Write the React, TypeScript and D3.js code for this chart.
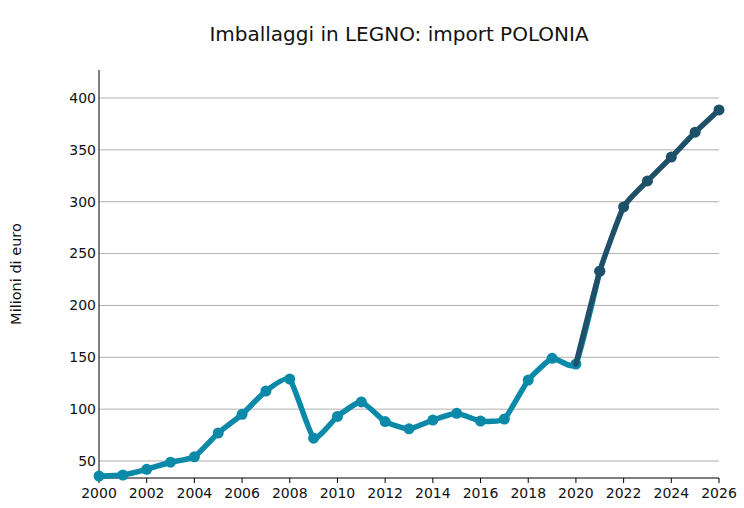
import React from "react";
import * as d3 from "d3";

const years = [
  2000, 2001, 2002, 2003, 2004, 2005, 2006, 2007, 2008, 2009, 2010, 2011, 2012,
  2013, 2014, 2015, 2016, 2017, 2018, 2019, 2020, 2021,
];
const importValues = [
  35.5, 36.5, 42, 48.8, 54, 77, 95, 117.5, 129, 72, 93, 107, 88, 81, 89.5, 96,
  88.5, 90.5, 128, 149, 143.5, 233,
];
const forecastYears = [2020, 2021, 2022, 2023, 2024, 2025, 2026];
const forecastValues = [143.5, 233, 295, 320, 343, 367, 388.5];
const yTicks = [50, 100, 150, 200, 250, 300, 350, 400];
const xTicks = d3.range(2000, 2027, 2);

const W = 744;
const H = 508;
const margin = { top: 70, right: 25, bottom: 30, left: 99 };

const App = () => {
  const x = d3
    .scaleLinear()
    .domain([2000, 2026])
    .range([margin.left, W - margin.right]);
  const y = d3
    .scaleLinear()
    .domain([33.6, 427])
    .range([H - margin.bottom, margin.top]);

  const line = d3
    .line<[number, number]>()
    .x((d) => x(d[0]))
    .y((d) => y(d[1]))
    .curve(d3.curveCardinal.tension(0.55));

  const actual: [number, number][] = years.map((yr, i) => [yr, importValues[i]]);
  const forecast: [number, number][] = forecastYears.map((yr, i) => [
    yr,
    forecastValues[i],
  ]);

  const font = "'DejaVu Sans', Verdana, sans-serif";

  return (
    <svg
      width={W}
      height={H}
      style={{ position: "absolute", left: 0, top: 0, fontFamily: font }}
    >
      <rect width={W} height={H} fill="white" />
      <text x={399} y={41} textAnchor="middle" fontSize={20} fill="#111">
        Imballaggi in LEGNO: import POLONIA
      </text>
      <text
        transform={`translate(21, ${(margin.top + H - margin.bottom) / 2}) rotate(-90)`}
        textAnchor="middle"
        fontSize={14.5}
        fill="#111"
      >
        Milioni di euro
      </text>

      {yTicks.map((t) => (
        <g key={t}>
          <line
            x1={margin.left}
            x2={W - margin.right}
            y1={y(t)}
            y2={y(t)}
            stroke="#b0b0b0"
            strokeWidth={1}
          />
          <text
            x={margin.left - 3}
            y={y(t)}
            dy="0.35em"
            textAnchor="end"
            fontSize={14}
            fill="#111"
          >
            {t}
          </text>
        </g>
      ))}

      <line
        x1={margin.left}
        x2={margin.left}
        y1={margin.top}
        y2={H - margin.bottom}
        stroke="#000"
      />
      <line
        x1={margin.left}
        x2={W - margin.right}
        y1={H - margin.bottom}
        y2={H - margin.bottom}
        stroke="#000"
      />
      {xTicks.map((t) => (
        <g key={t}>
          <line
            x1={x(t)}
            x2={x(t)}
            y1={H - margin.bottom}
            y2={H - margin.bottom + 5}
            stroke="#000"
          />
          <text
            x={x(t)}
            y={H - margin.bottom + 20}
            textAnchor="middle"
            fontSize={14}
            fill="#111"
          >
            {t}
          </text>
        </g>
      ))}

      <path
        d={line(actual) ?? ""}
        fill="none"
        stroke="#0a8aa8"
        strokeWidth={5.5}
        strokeLinejoin="round"
        strokeLinecap="round"
      />
      {actual.map((d) => (
        <circle key={`a${d[0]}`} cx={x(d[0])} cy={y(d[1])} r={5.5} fill="#0a8aa8" />
      ))}

      <path
        d={line(forecast) ?? ""}
        fill="none"
        stroke="#1f5069"
        strokeWidth={5.5}
        strokeLinejoin="round"
        strokeLinecap="round"
      />
      {forecast.slice(1).map((d) => (
        <circle key={`f${d[0]}`} cx={x(d[0])} cy={y(d[1])} r={5.5} fill="#1f5069" />
      ))}
    </svg>
  );
};

export default App;
